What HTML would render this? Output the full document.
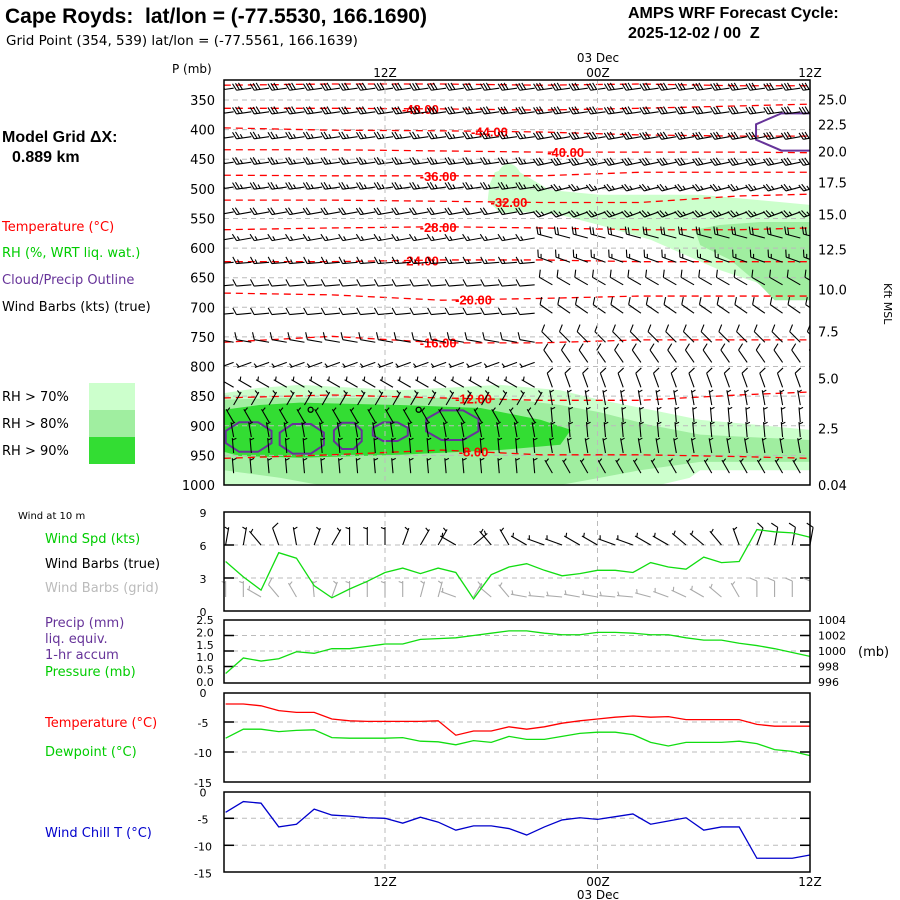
<!DOCTYPE html>
<html><head><meta charset="utf-8">
<style>
html,body{margin:0;padding:0;background:#fff;}
svg{display:block;font-family:"DejaVu Sans","Liberation Sans",sans-serif;}
.t{font-size:13px;fill:#000;}
.iso{font-family:"Liberation Sans",sans-serif;font-weight:bold;font-size:13px;fill:#f00;}
</style></head>
<body>
<svg id="chart" width="900" height="900" viewBox="0 0 900 900" xmlns="http://www.w3.org/2000/svg">
<text x="5" y="23" style="font-family:'Liberation Sans',sans-serif;font-weight:bold;font-size:21px;white-space:pre" xml:space="preserve">Cape Royds:  lat/lon = (-77.5530, 166.1690)</text>
<text x="6" y="45" style="font-size:13.5px">Grid Point (354, 539) lat/lon = (-77.5561, 166.1639)</text>
<text x="628" y="18" style="font-family:'Liberation Sans',sans-serif;font-weight:bold;font-size:16px">AMPS WRF Forecast Cycle:</text>
<text x="628" y="38" style="font-family:'Liberation Sans',sans-serif;font-weight:bold;font-size:16px;white-space:pre" xml:space="preserve">2025-12-02 / 00  Z</text>
<text x="2" y="142" style="font-family:'Liberation Sans',sans-serif;font-weight:bold;font-size:16px">Model Grid ΔX:</text>
<text x="12" y="162" style="font-family:'Liberation Sans',sans-serif;font-weight:bold;font-size:16px">0.889 km</text>
<text x="2" y="231" class="t" style="fill:#f00">Temperature (°C)</text>
<text x="2" y="257" class="t" style="fill:#00cc00">RH (%, WRT liq. wat.)</text>
<text x="2" y="284" class="t" style="fill:#663399">Cloud/Precip Outline</text>
<text x="2" y="311" class="t">Wind Barbs (kts) (true)</text>
<text x="172" y="73" style="font-size:12px">P (mb)</text>
<g>
<rect x="89" y="383" width="46" height="27" fill="#ccffcc"/>
<rect x="89" y="410" width="46" height="27" fill="#a0eea0"/>
<rect x="89" y="437" width="46" height="27" fill="#33dd33"/>
<text x="2" y="401" class="t">RH &gt; 70%</text>
<text x="2" y="428" class="t">RH &gt; 80%</text>
<text x="2" y="455" class="t">RH &gt; 90%</text>
</g>
<text x="18" y="519" style="font-size:10px">Wind at 10 m</text>
<text x="45" y="543" class="t" style="fill:#00cc00">Wind Spd (kts)</text>
<text x="45" y="568" class="t">Wind Barbs (true)</text>
<text x="45" y="592" class="t" style="fill:#bbb">Wind Barbs (grid)</text>
<text x="45" y="627" class="t" style="fill:#663399">Precip (mm)</text>
<text x="45" y="643" class="t" style="fill:#663399">liq. equiv.</text>
<text x="45" y="659" class="t" style="fill:#663399">1-hr accum</text>
<text x="45" y="676" class="t" style="fill:#00cc00">Pressure (mb)</text>
<text x="45" y="727" class="t" style="fill:#f00">Temperature (°C)</text>
<text x="45" y="756" class="t" style="fill:#00cc00">Dewpoint (°C)</text>
<text x="45" y="837" class="t" style="fill:#0000cc">Wind Chill T (°C)</text>
<text transform="translate(884,283) rotate(90)" style="font-size:11px">Kft MSL</text>
<g id="g"></g>
</svg>
<script>
// ---- data ----
var hours = [-9,-8,-7,-6,-5,-4,-3,-2,-1,0,1,2,3,4,5,6,7,8,9,10,11,12,13,14,15,16,17,18,19,20,21,22,23,24];
var windSpd = [4.5,3.1,1.9,5.3,4.8,2.3,1.2,2.0,2.7,3.5,3.9,3.4,3.9,3.5,1.1,3.3,4.0,4.3,3.7,3.2,3.4,3.7,3.7,3.5,4.4,4.0,3.8,4.9,4.4,4.5,7.4,7.2,7.1,6.7];
var windDir10 = [-80,-80,-130,-110,-100,-70,-60,-90,-90,-90,-70,-60,-60,-150,-40,-130,-120,-150,-160,-160,-150,-150,-160,-160,-150,-150,-140,-140,-130,-110,-70,-80,-80,-80];
var gridDir10 = [-90,-90,-150,-130,-120,-95,-70,-90,-90,-90,-90,-75,-75,-160,-60,-140,-130,-170,-175,-175,-170,-170,-175,-175,-165,-160,-155,-150,-140,-120,-90,-90,-90,-90];
var pressure = [997.1,999.1,998.7,999.0,999.9,999.7,1000.3,1000.3,1000.6,1000.9,1000.9,1001.5,1001.6,1001.7,1002.0,1002.3,1002.6,1002.6,1002.3,1002.1,1002.1,1002.4,1002.4,1002.3,1002.1,1002.1,1001.7,1001.4,1001.4,1001.0,1000.7,1000.3,999.8,999.3];
var temp2m = [-2.0,-2.0,-2.3,-3.1,-3.4,-3.4,-4.5,-4.8,-4.9,-4.9,-4.9,-4.9,-4.8,-7.2,-6.5,-6.5,-5.8,-6.2,-5.8,-5.2,-4.8,-4.5,-4.2,-4.0,-4.2,-4.1,-4.6,-4.6,-4.6,-4.6,-5.4,-5.7,-5.7,-5.7];
var dewpt = [-7.7,-6.2,-6.2,-6.6,-6.4,-6.3,-7.6,-7.7,-7.7,-7.7,-7.6,-8.2,-8.3,-8.8,-8.1,-8.4,-7.4,-7.9,-7.9,-7.4,-6.9,-6.7,-6.7,-7.1,-8.4,-9.0,-8.4,-8.4,-8.4,-8.2,-8.6,-9.6,-9.9,-10.6];
var windChill = [-3.9,-1.9,-2.2,-6.6,-6.1,-3.3,-4.4,-4.6,-4.9,-5.0,-5.9,-4.8,-5.7,-7.2,-6.4,-6.4,-6.9,-8.1,-6.6,-5.3,-4.9,-5.2,-4.7,-4.2,-6.1,-5.5,-4.9,-7.2,-6.6,-6.6,-12.4,-12.4,-12.4,-11.8];
var pLevels = [350,400,450,500,550,600,650,700,750,800,850,900,950,1000];
var kftLabels = ["25.0","22.5","20.0","17.5","15.0","12.5","10.0","7.5","5.0","2.5","0.04"];
var kftPress = [349,391,437,489,543,602,670,741,820,905,1000];
var barbP = [330,370,412,455,497,539,583,624,662,710,759,793,835,865,894,919,946,980];
var barbSpdL = [30,30,25,25,25,20,15,15,10,10,10,5,5,5,5,5,5,5];
var barbSpdR = [30,30,30,30,25,25,20,15,10,10,10,10,10,5,5,5,5,5];
var barbDirL = [188,188,188,188,188,190,190,185,185,185,170,200,150,60,120,100,95,95];
var barbDirR = [188,188,190,192,195,200,165,160,150,145,135,125,110,100,95,95,100,120];
var isoTemps = [-52,-48,-44,-40,-36,-32,-28,-24,-20,-16,-12,-8];
var isoHours = [-9.1,-3,3.2,8.8,14.4,20,24];
var isoPress = [
 [325,323,323,325,323,326,326],[364,364,365,367,364,360,357],[397,401,402,404,409,411,411],
 [434,434,436,438,438,438,439],[477,478,478,478,472,472,472],[519,519,521,523,523,512,509],
 [569,566,564,566,569,569,566],[623,623,620,620,623,623,623],[676,679,688,685,681,681,681],
 [759,749,760,760,755,755,755],[853,848,853,857,857,848,843],[955,949,941,949,949,952,955]];
var isoLabelHour = [null,2,5.9,10.2,3,7,3,2,5,3,5,5];
var rh70a = [[5.9,493],[6.2,472],[7.1,463],[7.9,477],[9.3,502],[12.1,510],[17.8,510],[24,527],[24,688],[22.3,671],[18.9,637],[15,586],[12.1,561],[9.9,544],[8.2,539],[6.5,541],[5.8,519]];
var rh80a = [[17.5,569],[18.9,561],[21.2,556],[24,556],[24,688],[22,688],[21.2,663],[19.5,620],[17.8,595]];
var rh70b = [[-9.1,845],[-7.1,836],[-4.8,831],[0.85,840],[6.5,831],[9.9,840],[12.1,856],[15,873],[17.8,890],[21.2,899],[24,907],[24,975],[21.2,975],[17.8,975],[17.2,988],[15.5,1000],[-9.1,1000]];
var rh80b = [[-9.1,856],[-5.9,853],[0.85,853],[6.5,853],[9.9,865],[12.1,877],[15,899],[17.8,915],[24,924],[24,961],[17.8,961],[14.4,975],[12.1,988],[9.9,1000],[-3.7,1000],[-5.9,988],[-9.1,975]];
var rh90b = [[-9.1,873],[-7.1,865],[-4.8,861],[0.85,865],[5.4,870],[8.8,890],[10.5,907],[9.9,932],[6.5,941],[0.85,949],[-4.8,954],[-8.2,951],[-9.1,944]];
var cloudH = [-7.7,-4.7,-2.1,0.3,3.8,23.4];
var cloudP = [919,922,917,910,899,404];
var cloudRH = [1.4,1.35,0.85,1.07,1.6,2.65];
var cloudRP = [27,27,24,17,27,34];
</script>
<script>
var NS="http://www.w3.org/2000/svg", G=document.getElementById('g');
function mk(tag,at,parent){var e=document.createElementNS(NS,tag);for(var k in at)e.setAttribute(k,at[k]);(parent||G).appendChild(e);return e;}
var X0=224,X1=810;
function xH(h){return 385+h*(212.5/12);}
function yP(p){return 100+(p-350)*0.5923;}
function ySpd(v){return 611-v*11;}
function yPres(p){return 651-(p-1000)*7.75;}
function yT(t){return 692-t*6;}
function yWC(t){return 791.3-t*5.4;}
var defs=mk('defs',{});
var cp=mk('clipPath',{id:'mainclip'},defs);mk('rect',{x:X0,y:80,width:X1-X0,height:405},cp);
var main=mk('g',{'clip-path':'url(#mainclip)'});


function poly(arr,fill,name){var pts=arr.map(function(d){return xH(d[0])+','+yP(d[1]);}).join(' ');
 var e=mk('polygon',{points:pts,fill:fill},main);
 
 }
poly(rh70a,'#ccffcc','rh-70-upper');
mk('ellipse',{cx:xH(7),cy:yP(495),rx:14,ry:22,fill:'#ccffcc'},main);
poly(rh80a,'#a0eea0','rh-80-upper');
poly(rh70b,'#ccffcc','rh-70-lower');
poly(rh80b,'#a0eea0','rh-80-lower');
poly(rh90b,'#33dd33','rh-90-lower');
pLevels.forEach(function(p){var l=mk('line',{x1:X0,x2:X1,y1:yP(p),y2:yP(p),stroke:'#bbb','stroke-dasharray':'5,4'},main);
 
 });
isoTemps.forEach(function(t,i){
 var pts=isoHours.map(function(h,j){return xH(h)+','+yP(isoPress[i][j]);}).join(' ');
 var l=mk('polyline',{points:pts,fill:'none',stroke:'#f00','stroke-width':1.3,'stroke-dasharray':'7,5'},main);
 
 
 if(isoLabelHour[i]!==null){var h=isoLabelHour[i];var k=0;while(k<isoHours.length-2&&isoHours[k+1]<h)k++;
  var f=(h-isoHours[k])/(isoHours[k+1]-isoHours[k]);var p=isoPress[i][k]+f*(isoPress[i][k+1]-isoPress[i][k]);
  var tx=mk('text',{x:xH(h),y:yP(p)+5,'text-anchor':'middle','class':'iso'},main);tx.textContent=t.toFixed(2);
  
  }
});
cloudH.forEach(function(h,i){var cx=xH(h),cy=yP(cloudP[i]),rx=cloudRH[i]*17.7,ry=cloudRP[i]*0.5923,pts=[];
 for(var a=0;a<8;a++){var th=(a*45+22.5)*Math.PI/180;pts.push((cx+rx*Math.cos(th))+','+(cy+ry*Math.sin(th)));}
 var e=mk('polygon',{points:pts.join(' '),fill:'none',stroke:'#663399','stroke-width':2},main);
 
 });
function barb(x,y,spd,dir,len,col,par,w){
 var th=dir*Math.PI/180, dx=Math.cos(th), dy=-Math.sin(th);
 var tx=x+dx*len, ty=y+dy*len, s='M'+x+','+y+'L'+tx+','+ty;
 var px=-dy, py=dx; if(py>0){px=-px;py=-py;}
 var n=Math.floor(spd/10), half=(spd%10)>=5, pos=0;
 for(var k=0;k<n;k++){var bx=tx-dx*pos, by=ty-dy*pos;s+='M'+bx+','+by+'L'+(bx+px*7+dx*3)+','+(by+py*7+dy*3);pos+=3;}
 if(half){if(n===0)pos=2;var bx=tx-dx*pos, by=ty-dy*pos;s+='M'+bx+','+by+'L'+(bx+px*4+dx*1.5)+','+(by+py*4+dy*1.5);}
 return mk('path',{d:s,stroke:col,'stroke-width':w||1,fill:'none'},par);}
barbP.forEach(function(p,r){hours.forEach(function(h,i){
 var right=h>=9; var b=barb(xH(h)+8,yP(p),right?barbSpdR[r]:barbSpdL[r],right?barbDirR[r]:barbDirL[r],15,'#000',main,1.1);
 
 });});
[[-4.2,873],[1.9,873]].forEach(function(c){var e=mk('circle',{cx:xH(c[0]),cy:yP(c[1]),r:2.5,fill:'none',stroke:'#000','stroke-width':1.3},main);
 
 });
function frame(y0,y1,name){var r=mk('rect',{x:X0,y:y0,width:X1-X0,height:y1-y0,fill:'none',stroke:'#000','stroke-width':1.5});
 
 }
function vgrid(y0,y1){[0,12].forEach(function(h){var l=mk('line',{x1:xH(h),x2:xH(h),y1:y0,y2:y1,stroke:'#bbb','stroke-dasharray':'5,4'});
 
 });}
function hgrid(ys){ys.forEach(function(y){var l=mk('line',{x1:X0,x2:X1,y1:y,y2:y,stroke:'#bbb','stroke-dasharray':'5,4'});
 
 
 mk('line',{x1:X0,x2:X0+10,y1:y,y2:y,stroke:'#000','stroke-width':1.5});mk('line',{x1:X1-10,x2:X1,y1:y,y2:y,stroke:'#000','stroke-width':1.5});});}
function txt(x,y,s,anchor,name,size,col){var t=mk('text',{x:x,y:y,'text-anchor':anchor||'start',style:'font-size:'+(size||13)+'px;fill:'+(col||'#000')});t.textContent=s;
 
 return t;}
function line(arr,yf,col,name){var pts=hours.map(function(h,i){return xH(h)+','+yf(arr[i]);}).join(' ');
 var l=mk('polyline',{points:pts,fill:'none',stroke:col,'stroke-width':1.3});
 
 }
vgrid(80,485);
frame(80,485,'cross-section-frame');
pLevels.forEach(function(p){txt(215,yP(p)+5,String(p),'end','p-tick-label');});
kftLabels.forEach(function(s,i){txt(818,yP(kftPress[i])+5,s,'start','kft-tick-label');});
txt(598,62,'03 Dec','middle','top-date-label',12);
txt(385,77,'12Z','middle','top-time-label',12);txt(598,77,'00Z','middle','top-time-label',12);txt(810,77,'12Z','middle','top-time-label',12);
vgrid(512,611);hgrid([ySpd(6),ySpd(3)]);
hours.forEach(function(h,i){var b=barb(xH(h),545,windSpd[i]<5?5:10,-windDir10[i],18,'#000',G,1.1);
 
 
 var g2=barb(xH(h),597,windSpd[i]<5?5:10,-gridDir10[i],16,'#aaa',G,1.1);
 
 });
line(windSpd,ySpd,'#11dd11','wind-speed-line');
frame(512,611,'wind-panel-frame');
['9','6','3','0'].forEach(function(s){txt(203,ySpd(+s)+5,s,'middle','wind-tick-label',11);});
vgrid(620,683);hgrid([yPres(998),yPres(1000),yPres(1002)]);
line(pressure,yPres,'#11dd11','pressure-line');
frame(620,683,'pressure-panel-frame');
['2.5','2.0','1.5','1.0','0.5','0.0'].forEach(function(s){txt(205,yPres(996+(+s)*3.2)+4,s,'middle','precip-tick-label',11);});
[996,998,1000,1002,1004].forEach(function(p){txt(818,yPres(p)+4,String(p),'start','pressure-tick-label',11);});
txt(858,656,'(mb)','start','pressure-unit',13);
vgrid(693,782);hgrid([yT(-5),yT(-10)]);
line(temp2m,yT,'#ff0000','temperature-line');line(dewpt,yT,'#11dd11','dewpoint-line');
frame(693,782,'temperature-panel-frame');
[0,-5,-10,-15].forEach(function(v){txt(203,yT(v)+5,String(v),'middle','temp-tick-label',11);});
vgrid(792,872);hgrid([yWC(-5),yWC(-10)]);
line(windChill,yWC,'#0000cc','wind-chill-line');
frame(792,872,'wind-chill-panel-frame');
[0,-5,-10,-15].forEach(function(v){txt(203,yWC(v)+5,String(v),'middle','wc-tick-label',11);});
txt(385,886,'12Z','middle','bottom-time-label',12);txt(598,886,'00Z','middle','bottom-time-label',12);txt(810,886,'12Z','middle','bottom-time-label',12);
txt(598,899,'03 Dec','middle','bottom-date-label',12);
</script>
</body></html>
